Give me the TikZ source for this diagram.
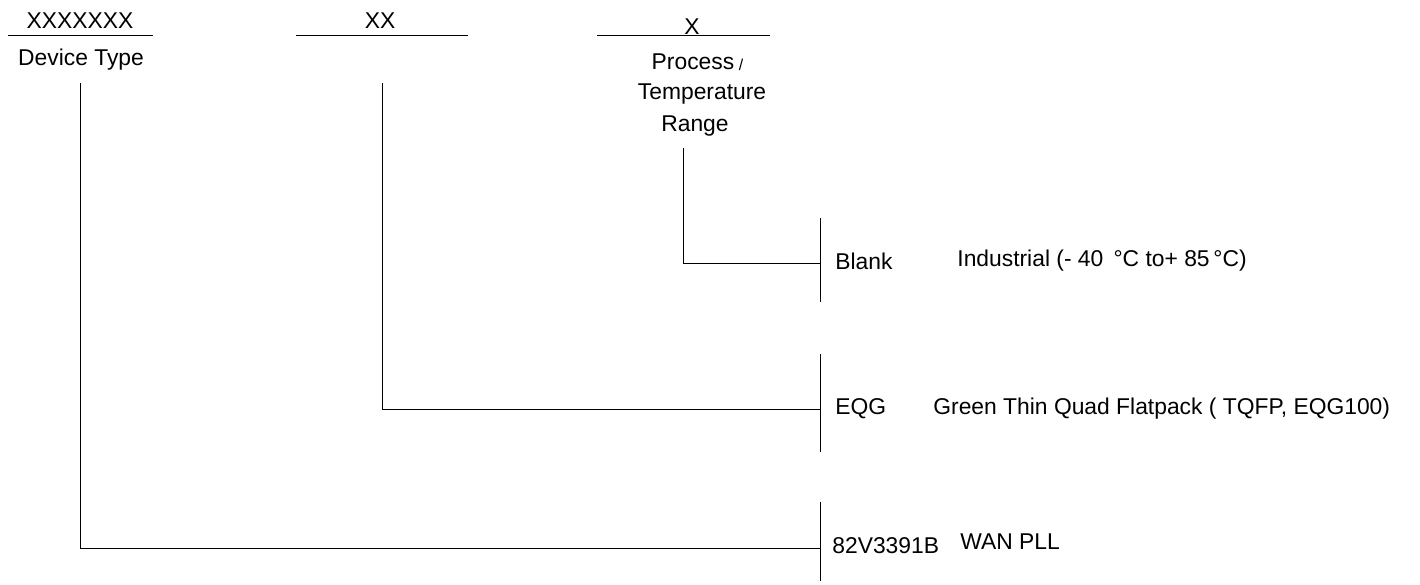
\documentclass[tikz,border=0pt]{standalone}
\usepackage{fontspec}
\setmainfont{Liberation Sans}
\begin{document}
\begin{tikzpicture}[line width=0.45pt,
    txt/.style={inner sep=0pt, font=\fontsize{13}{15}\selectfont},
    lft/.style={txt, anchor=west}]
    \useasboundingbox (0,0) rectangle (28.4,-11.68);
    \def \bx {16.4};

    % поля кода
    \node [txt] (typeCode) at (1.6,-0.42) {XXXXXXX};
    \draw (0.16,-0.70) -- (3.06,-0.70);
    \node [txt] (typeName) at (1.62,-1.2) {Device Type};

    \node [txt] (pkgCode) at (7.6,-0.42) {XX};
    \draw (5.92,-0.70) -- (9.36,-0.70);

    \draw (11.94,-0.70) -- (15.4,-0.70);
    \node [txt] (tempCode) at (13.84,-0.54) {X};
    \node [txt] (tempName1) at (13.86,-1.24) {Process};
    \node [txt, font=\fontsize{9}{10}\selectfont] (tempSlash) at (14.82,-1.30) {/};
    \node [txt] (tempName2) at (14.04,-1.88) {Temperature};
    \node [txt] (tempName3) at (13.9,-2.52) {Range};

    % линии
    \coordinate (typeTop) at (1.6,-1.66);
    \coordinate (typeEnd) at (\bx,-10.96);
    \coordinate (pkgTop) at (7.64,-1.66);
    \coordinate (pkgEnd) at (\bx,-8.18);
    \coordinate (tempTop) at (13.66,-2.96);
    \coordinate (tempEnd) at (\bx,-5.26);
    \draw (typeTop) |- (typeEnd);
    \draw (pkgTop) |- (pkgEnd);
    \draw (tempTop) |- (tempEnd);

    % скобки
    \draw (\bx,-4.36) -- (\bx,-6.04);
    \draw (\bx,-7.08) -- (\bx,-9.04);
    \draw (\bx,-10.04) -- (\bx,-11.62);

    % варианты
    \node [lft] (tempOpt) at (16.7,-5.22) {Blank};
    \node [lft] (tempDesc) at (19.14,-5.22) {Industrial (- 40 \,°C to+ 85\,°C)};
    \node [lft] (pkgOpt) at (16.7,-8.18) {EQG};
    \node [lft] (pkgDesc) at (18.66,-8.18) {Green Thin Quad Flatpack ( TQFP, EQG100)};
    \node [lft] (typeOpt) at (16.64,-10.92) {82V3391B};
    \node [lft] (typeDesc) at (19.2,-10.84) {WAN PLL};
\end{tikzpicture}
\end{document}
